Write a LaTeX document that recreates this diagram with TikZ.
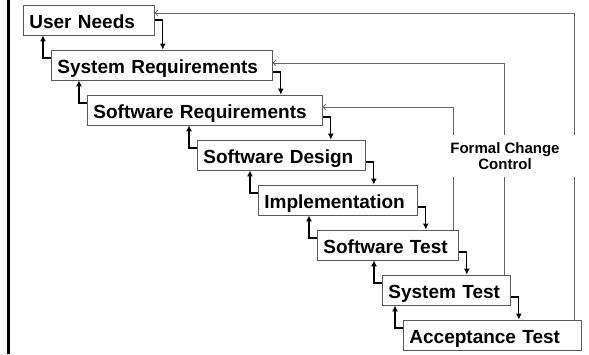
\documentclass[tikz,border=0pt]{standalone}
\usepackage{fontspec}
\setmainfont{Liberation Sans}
\usetikzlibrary{arrows.meta}

\tikzset{
  stage/.style={draw=black!65, line width=0.8pt, anchor=west, align=left,
    minimum height=30pt, inner xsep=6pt, inner ysep=0pt,
    text height=17pt, text depth=1pt,
    font=\bfseries\fontsize{19}{22}\selectfont},
  flow/.style={line width=1.3pt, -{Latex[length=6pt,width=6pt]}},
  change/.style={draw=black!60, line width=0.8pt,
    -{Straight Barb[length=2.5pt,width=6pt]}},
  fcc/.style={fill=white, align=center, inner sep=0pt,
    minimum width=142pt, minimum height=42pt,
    font=\bfseries\fontsize{15}{16}\selectfont}
}

\begin{document}
\begin{tikzpicture}[x=1pt, y=1pt]

\useasboundingbox (0,0) rectangle (589,-354);

% left rule
\draw [line width=3pt] (8,0) -- (8,-354);

% the stages, one step down and right each
\foreach \txt/\x/\w [count=\i] in {User Needs/23/119,
    System Requirements/51/209, Software Requirements/87/223,
    Software Design/197/156, Implementation/258/147,
    Software Test/317/129, System Test/382/116, Acceptance Test/403/166}
  \node [stage, text width=\w pt] (s-\i) at (\x,25-45*\i) {\txt};

% forward: right side down to the next stage
\foreach \j/\dy [count=\i] in {2/0,3/7,4/7,5/7,6/7,7/7,8/7}
  \draw [flow] ([yshift=-\dy pt]s-\i.east) -- ++(8,0) coordinate (k)
    -- (k |- s-\j.north);

% backward: left side up to the previous stage
\foreach \j [count=\i] in {2,...,8}
  \draw [flow] ([yshift=7pt]s-\j.west) -- ++(-8,0) coordinate (k)
    -- (k |- s-\i.south);

% change control loops back from the test stages
\foreach \from/\to/\dx/\dy in {8/1/7/7, 7/2/6/2, 6/3/5/3}
  \draw [change] ([xshift=-\dx pt]s-\from.north east)
    |- ([yshift=\dy pt]s-\to.east);

\node [fcc] (ctrl) at (505,-156) {Formal Change\\Control};

\end{tikzpicture}
\end{document}
